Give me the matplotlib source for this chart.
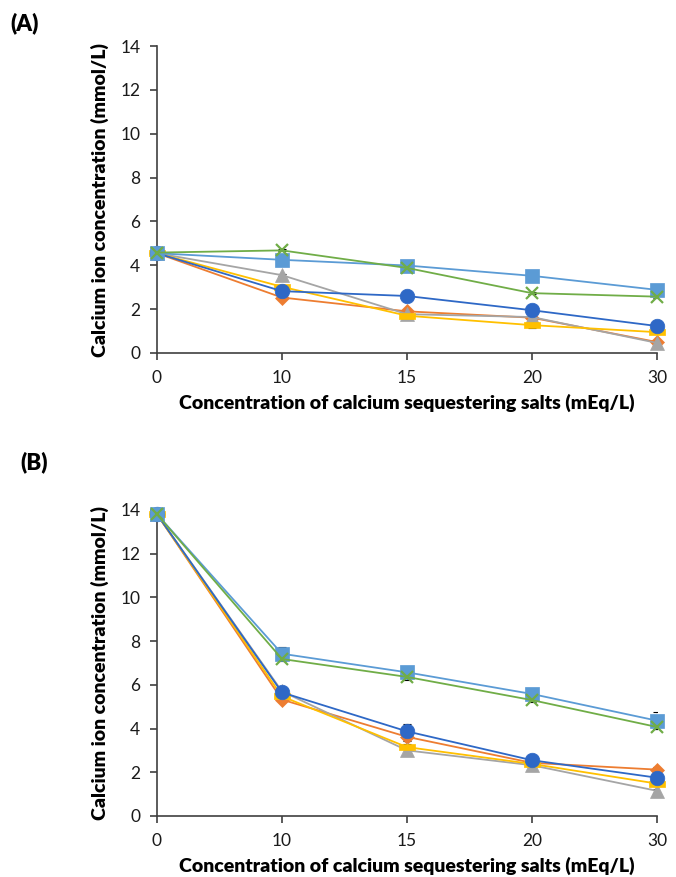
import matplotlib
matplotlib.use("Agg")
import matplotlib.pyplot as plt
import numpy as np

plt.rcParams['font.family'] = ['Lato', 'DejaVu Sans']

# x categories (mEq/L)
conc = ['0', '10', '15', '20', '30']

# panel A values (mmol/L)
a_orange = [4.55, 2.53, 1.90, 1.61, 0.50]
a_gray = [4.55, 3.55, 1.77, 1.64, 0.46]
a_yellow = [4.55, 3.02, 1.70, 1.27, 0.95]
a_blue = [4.55, 2.82, 2.60, 1.95, 1.23]
a_square = [4.55, 4.25, 3.99, 3.52, 2.88]
a_green = [4.58, 4.68, 3.88, 2.73, 2.57]
a_err = {
    'orange': [0, 0.05, 0.05, 0.05, 0.05],
    'gray': [0, 0.05, 0.05, 0.08, 0.05],
    'yellow': [0, 0.05, 0.05, 0.15, 0.05],
    'blue': [0, 0.05, 0.05, 0.05, 0.05],
    'square': [0, 0.05, 0.05, 0.05, 0.05],
    'green': [0, 0.05, 0.05, 0.05, 0.05],
}

# panel B values (mmol/L)
b_orange = [13.8, 5.32, 3.62, 2.43, 2.12]
b_gray = [13.8, 5.70, 3.00, 2.32, 1.15]
b_yellow = [13.8, 5.47, 3.15, 2.38, 1.48]
b_blue = [13.8, 5.65, 3.87, 2.55, 1.75]
b_square = [13.8, 7.42, 6.57, 5.58, 4.36]
b_green = [13.8, 7.18, 6.36, 5.30, 4.07]
b_err = {
    'orange': [0, 0.1, 0.35, 0.1, 0.1],
    'gray': [0, 0.1, 0.1, 0.2, 0.1],
    'yellow': [0, 0.1, 0.3, 0.1, 0.1],
    'blue': [0, 0.1, 0.35, 0.2, 0.1],
    'square': [0, 0.3, 0.15, 0.1, 0.4],
    'green': [0, 0.1, 0.15, 0.1, 0.1],
}

rect = [(-1, -0.45), (1, -0.45), (1, 0.45), (-1, 0.45), (-1, -0.45)]
styles = {
    'orange': dict(color='#ED7D31', marker='D', ms=7),
    'gray': dict(color='#A5A5A5', marker='^', ms=10),
    'yellow': dict(color='#FFC000', marker=rect, ms=11),
    'blue': dict(color='#2E68C6', marker='o', ms=10.5),
    'square': dict(color='#5B9BD5', marker='s', ms=10),
    'green': dict(color='#70AD47', marker='x', ms=9, mew=1.6),
}


def draw(ax, series, errs):
    x = np.arange(len(conc))
    for key, vals in series:
        st = styles[key]
        ax.errorbar(x, vals, yerr=errs[key], fmt='none', ecolor='black',
                    elinewidth=0.8, capsize=3, capthick=0.8, zorder=2)
        ax.plot(x, vals, color=st['color'], lw=1.3, marker=st['marker'],
                ms=st['ms'], mew=st.get('mew', 0.5), mec=st['color'],
                mfc=st['color'], zorder=3, clip_on=False)
    ax.set_xlim(0, len(conc) - 1)
    ax.set_ylim(0, 14)
    ax.set_yticks(range(0, 15, 2))
    ax.set_xticks(x)
    ax.set_xticklabels(conc)
    for s in ['top', 'right']:
        ax.spines[s].set_visible(False)
    for s in ['left', 'bottom']:
        ax.spines[s].set_color('#404040')
        ax.spines[s].set_linewidth(1.2)
    ax.tick_params(axis='both', direction='out', length=5, width=1.2,
                   color='#404040', labelsize=12.5, labelcolor='#1a1a1a', pad=7)
    ax.set_xlabel('Concentration of calcium sequestering salts (mEq/L)',
                  fontsize=14, fontweight='heavy', labelpad=6)
    ax.set_ylabel('Calcium ion concentration (mmol/L)',
                  fontsize=14, fontweight='heavy', labelpad=8)


fig = plt.figure(figsize=(6.76, 8.77), dpi=100)
ax1 = fig.add_axes([0.2322, 0.5975, 0.7396, 0.350])
ax2 = fig.add_axes([0.2322, 0.0696, 0.7396, 0.349])

draw(ax1, [('orange', a_orange), ('gray', a_gray), ('yellow', a_yellow),
           ('blue', a_blue), ('square', a_square), ('green', a_green)], a_err)
draw(ax2, [('orange', b_orange), ('gray', b_gray), ('yellow', b_yellow),
           ('blue', b_blue), ('square', b_square), ('green', b_green)], b_err)

fig.text(0.016, 0.974, '(A)', fontsize=16, fontweight='heavy', va='center')
fig.text(0.03, 0.473, '(B)', fontsize=16, fontweight='heavy', va='center')

fig.savefig('out.png', dpi=100)
